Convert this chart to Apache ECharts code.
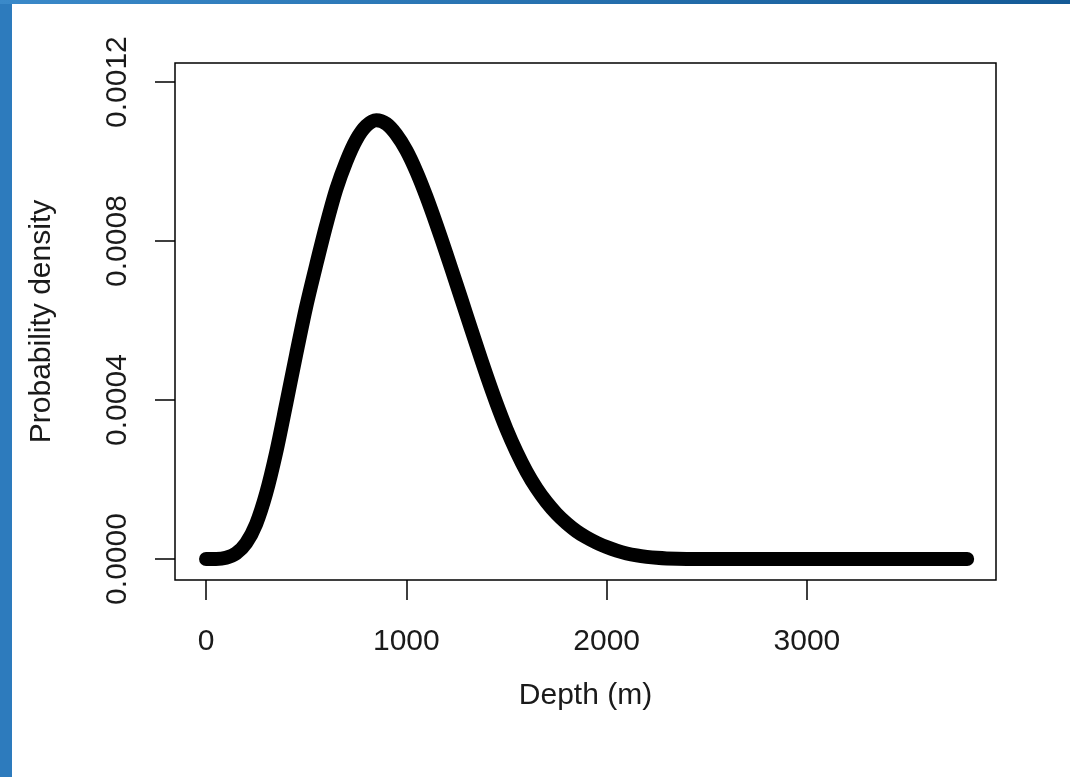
<!DOCTYPE html>
<html>
<head>
<meta charset="utf-8">
<script src="https://cdn.jsdelivr.net/npm/echarts@6/dist/echarts.min.js"></script>
<style>
html,body{margin:0;padding:0;background:#fff;}
#c{width:1070px;height:777px;}
</style>
</head>
<body>
<div id="c"></div>
<script>
// Data
var depths = [0,50,100,150,200,250,300,350,400,450,500,550,600,650,700,750,800,850,900,950,1000,1050,1100,1150,1200,1250,1300,1350,1400,1450,1500,1550,1600,1650,1700,1750,1800,1850,1900,1950,2000,2050,2100,2150,2200,2250,2300,2400,2600,2800,3000,3200,3400,3600,3800];
var density = [0,0,0.000003,0.000014,0.00004,0.000088,0.000165,0.000268,0.00039,0.000515,0.000635,0.00074,0.00084,0.00093,0.001,0.001055,0.00109,0.001104,0.001095,0.001068,0.001028,0.000975,0.000912,0.000842,0.000768,0.000692,0.000615,0.000538,0.000463,0.000392,0.000327,0.00027,0.00022,0.000178,0.000143,0.000114,0.00009,0.00007,0.000054,0.000041,0.00003,0.000021,0.000014,0.000009,0.0000055,0.000003,0.0000015,0.0000003,0,0,0,0,0,0,0];
var xTicks = [0,1000,2000,3000];
var yTicks = [0,0.0004,0.0008,0.0012];
var xTitle = 'Depth (m)';
var yTitle = 'Probability density';

var pts = depths.map(function(d,i){return [d,density[i]];});
var font = '"Liberation Sans", Arial, sans-serif';
var txt = '#1a1a1a';

var chart = echarts.init(document.getElementById('c'), null, {renderer:'canvas'});
chart.setOption({
  animation:false,
  backgroundColor:'#ffffff',
  graphic:[
    {type:'rect', shape:{x:0,y:0,width:12,height:777}, style:{fill:'#2d7bbd'}, z:100},
    {type:'rect', shape:{x:0,y:0,width:1070,height:4},
      style:{fill:new echarts.graphic.LinearGradient(0,0,1,0,[{offset:0,color:'#3a89c9'},{offset:1,color:'#145a96'}])}, z:100}
  ],
  grid:{left:175, top:63, right:74, bottom:197, show:true, borderColor:'#000', borderWidth:1.5, backgroundColor:'transparent'},
  xAxis:{
    type:'value', min:-155, max:3944,
    name:xTitle, nameLocation:'middle', nameGap:101,
    nameTextStyle:{fontFamily:font, fontSize:30, color:txt},
    axisLine:{show:false, onZero:false},
    axisTick:{show:true, inside:false, customValues:xTicks, length:20, lineStyle:{color:'#000', width:1.5}},
    axisLabel:{customValues:xTicks, margin:47, fontFamily:font, fontSize:30, color:txt,
      formatter:function(v){return String(v);}},
    splitLine:{show:false}
  },
  yAxis:{
    type:'value', min:-0.0000528, max:0.001248,
    name:yTitle, nameLocation:'middle', nameGap:118, nameRotate:90,
    nameTextStyle:{fontFamily:font, fontSize:30, color:txt},
    axisLine:{show:false, onZero:false},
    axisTick:{show:true, inside:false, customValues:yTicks, length:20, lineStyle:{color:'#000', width:1.5}},
    axisLabel:{customValues:yTicks, rotate:90, margin:42, fontFamily:font, fontSize:30, color:txt,
      formatter:function(v){return v.toFixed(4);}},
    splitLine:{show:false}
  },
  series:[{
    type:'line', data:pts, showSymbol:false, symbol:'none',
    smooth:0.3,
    lineStyle:{color:'#000', width:14, cap:'round', join:'round'}
  }]
});
</script>
</body>
</html>
